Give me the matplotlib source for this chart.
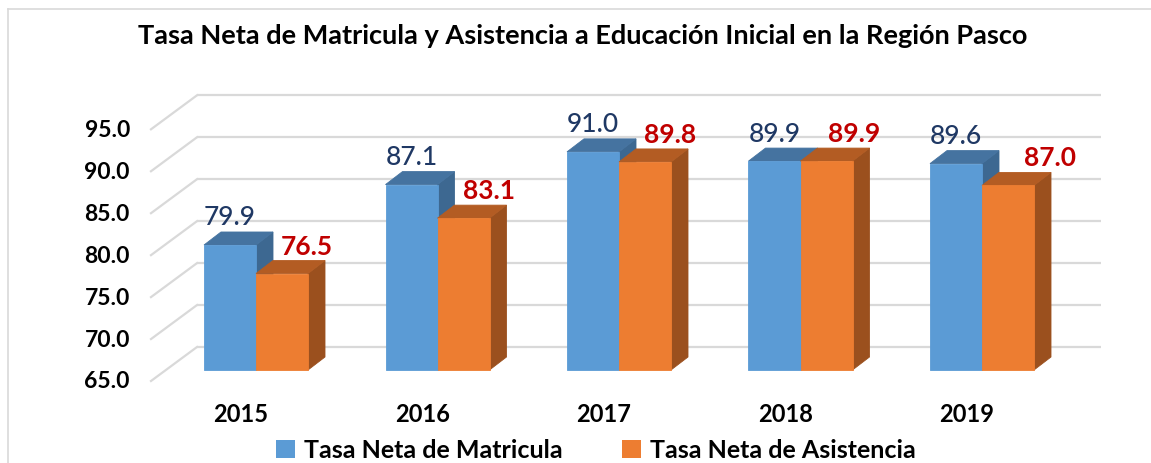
import numpy as np
import matplotlib
matplotlib.use("Agg")
import matplotlib.pyplot as plt
from matplotlib.patches import Polygon, Patch
from matplotlib.lines import Line2D

years = ['2015', '2016', '2017', '2018', '2019']
matricula = [79.9, 87.1, 91.0, 89.9, 89.6]
asistencia = [76.5, 83.1, 89.8, 89.9, 87.0]
ticks = [65, 70, 75, 80, 85, 90, 95]

title = 'Tasa Neta de Matricula y Asistencia a Educación Inicial en la Región Pasco'
names = ['Tasa Neta de Matricula', 'Tasa Neta de Asistencia']

plt.rcParams['font.family'] = ['Lato', 'DejaVu Sans']

W, H = 1151, 464
fig = plt.figure(figsize=(W / 100, H / 100), dpi=100)
ax = fig.add_axes([0, 0, 1, 1])
ax.axis('off')

# pixel scale of the fake 3d: category step and value unit
sx, sy = 181.5, 8.39
x0_px, base_px = 256, 371
ymin = ticks[0]
ax.set_xlim(-x0_px / sx, (W - x0_px) / sx)
ax.set_ylim(ymin - (H - base_px) / sy, ymin + base_px / sy)

bw = 52 / sx               # bar width
ddx, ddy = 17 / sx, 13 / sy  # bar depth
bx, by = 31 / sx, 23 / sy    # back wall behind bar plane
fx, fy = -15 / sx, -11 / sy  # front edge in front of bar plane
wall_l = (197 - x0_px) / sx
wall_r = (1101 - x0_px) / sx
front_l = (151 - x0_px) / sx

grid_c = '#D9D9D9'
for t in ticks:
    ax.plot([wall_l, wall_r], [t + by, t + by], color=grid_c, lw=1.6, zorder=1,
            solid_capstyle='butt')
    ax.plot([front_l, wall_l], [t + fy, t + by], color=grid_c, lw=1.6, zorder=1)
    ax.text((130 - x0_px) / sx, t + fy, f'{t:.1f}', ha='right', va='center',
            fontsize=16.5, fontweight='bold', color='black')


def box(x, v, front, top, side, z):
    faces = [
        ([(x + bw, ymin), (x + bw + ddx, ymin + ddy), (x + bw + ddx, v + ddy), (x + bw, v)], side),
        ([(x, v), (x + bw, v), (x + bw + ddx, v + ddy), (x + ddx, v + ddy)], top),
        ([(x, ymin), (x + bw, ymin), (x + bw, v), (x, v)], front),
    ]
    for pts, c in faces:
        ax.add_patch(Polygon(pts, closed=True, facecolor=c, edgecolor=c,
                             lw=0.6, zorder=z))


xs = np.arange(len(years))
blue = ('#5B9BD5', '#4573A0', '#3D6891')
orange = ('#ED7D31', '#B35C23', '#9B501E')
orange_dx = [25, 25, 25, 28, 42]

for i in xs:
    box(i - bw, matricula[i], *blue, z=2 + i * 2)
    box(i, asistencia[i], *orange, z=3 + i * 2)
    ax.annotate(f'{matricula[i]:.1f}', (i - bw / 2, matricula[i]),
                xytext=(0, 28), textcoords='offset pixels', ha='center',
                va='center', fontsize=19, fontweight='medium',
                color='#1F3864', zorder=20)
    ax.annotate(f'{asistencia[i]:.1f}', (i + bw / 2, asistencia[i]),
                xytext=(orange_dx[i], 28), textcoords='offset pixels',
                ha='center', va='center', fontsize=19, fontweight='bold',
                color='#C00000', zorder=20)
    ax.annotate(years[i], (i + fx, ymin + fy), xytext=(0, -33),
                textcoords='offset pixels', ha='center', va='center',
                fontsize=17, fontweight='bold', color='black')

fig.text(582.5 / W, 1 - 44 / H, title, ha='center', va='baseline',
         fontsize=19.5, fontweight='bold', color='black')

handles = [Patch(facecolor=blue[0], label=names[0]),
           Patch(facecolor=orange[0], label=names[1])]
fig.legend(handles=handles, loc='center', bbox_to_anchor=(596 / W, 1 - 451 / H),
           ncol=2, frameon=False, prop={'size': 18, 'weight': 'bold'},
           handlelength=0.75, handleheight=0.75, handletextpad=0.35,
           columnspacing=2.4, borderaxespad=0, borderpad=0)

# chart area border (top and left visible)
fig.add_artist(Line2D([8 / W, 8 / W], [0, 1 - 10 / H], color=grid_c, lw=1.2))
fig.add_artist(Line2D([8 / W, 1], [1 - 10 / H, 1 - 10 / H], color=grid_c, lw=1.2))

fig.savefig('out.png', dpi=100)
